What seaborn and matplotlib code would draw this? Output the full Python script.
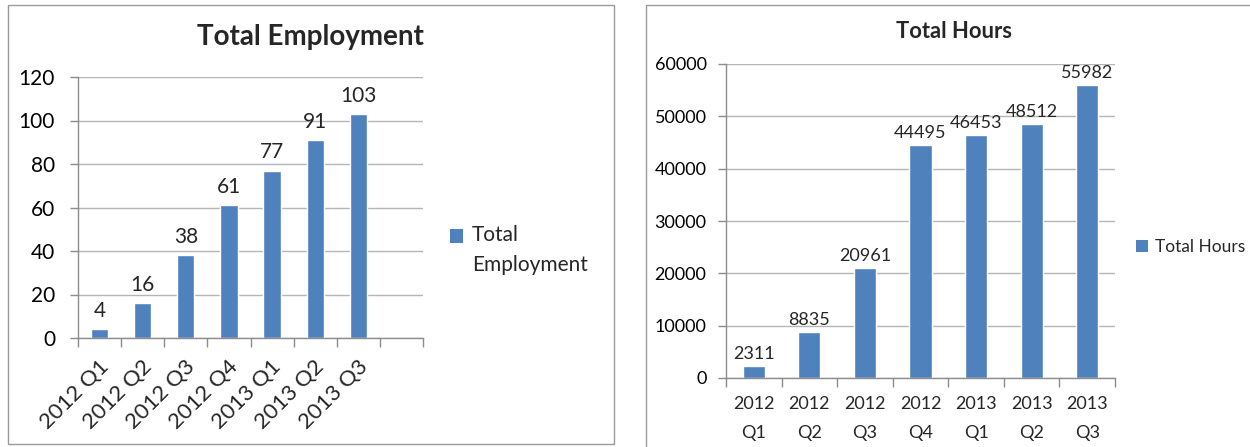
import matplotlib
matplotlib.use("Agg")
import matplotlib.pyplot as plt
import seaborn as sns
import pandas as pd
import numpy as np
from matplotlib.patches import Rectangle, Patch
from matplotlib.legend_handler import HandlerPatch
from matplotlib.transforms import ScaledTranslation

# ---- data ----
quarters = ["2012 Q1", "2012 Q2", "2012 Q3", "2012 Q4", "2013 Q1", "2013 Q2", "2013 Q3"]
employment = [4, 16, 38, 61, 77, 91, 103]
hours = [2311, 8835, 20961, 44495, 46453, 48512, 55982]
emp_ticks = [0, 20, 40, 60, 80, 100, 120]
hour_ticks = [0, 10000, 20000, 30000, 40000, 50000, 60000]

sns.set_theme(style="white")
plt.rcParams["font.family"] = ["Lato", "DejaVu Sans"]

BLUE = "#4F81BD"
AXC = "#8c8c8c"
GRID = "#b5b5b5"
W, H = 1250, 447

fig = plt.figure(figsize=(12.5, 4.47), dpi=100)
fig.patch.set_facecolor("white")

# chart-area borders
fig.add_artist(Rectangle((8 / W, 1 - 444 / H), (614 - 8) / W, (444 - 5) / H,
                         transform=fig.transFigure, fill=False, edgecolor="#9a9a9a", lw=1))
fig.add_artist(Rectangle((646 / W, -0.2), 0.6, 1.2 - 5 / H,
                         transform=fig.transFigure, fill=False, edgecolor="#9a9a9a", lw=1))


def style_axes(ax, nslots, ytick_vals, ysize, ypad):
    if ax.get_legend() is not None:
        ax.get_legend().remove()
    ax.set_xlim(-0.5, nslots - 0.5)
    ax.set_ylim(ytick_vals[0], ytick_vals[-1])
    ax.set_yticks(ytick_vals)
    ax.set_xticks(np.arange(-0.5, nslots, 1.0), minor=True)
    ax.yaxis.grid(True, color=GRID, lw=1)
    ax.xaxis.grid(False)
    ax.set_axisbelow(True)
    for s in ["top", "right"]:
        ax.spines[s].set_visible(False)
    for s in ["left", "bottom"]:
        ax.spines[s].set_color(AXC)
        ax.spines[s].set_linewidth(1)
    ax.tick_params(axis="x", which="major", length=0)
    ax.tick_params(axis="x", which="minor", length=6.5, color=AXC, width=1, direction="out", bottom=True)
    ax.tick_params(axis="y", which="major", length=5.5, color=AXC, width=1, direction="out",
                   left=True, labelsize=ysize, pad=ypad, labelcolor="black")
    ax.set_xlabel("")
    ax.set_ylabel("")


# ---- left: Total Employment ----
ax1 = fig.add_axes([78 / W, 1 - 338 / H, (423 - 78) / W, (338 - 77) / H])
df1 = pd.DataFrame({"Quarter": quarters, "Total Employment": employment})
sns.barplot(data=df1, x="Quarter", y="Total Employment", color=BLUE, saturation=1,
            width=0.4, ax=ax1)
style_axes(ax1, 8, emp_ticks, 15, 11)
ax1.set_xticks(range(len(quarters)))
ax1.set_xticklabels(quarters, rotation=45, ha="right", rotation_mode="anchor",
                    fontsize=16, va="center")
ax1.tick_params(axis="x", which="major", pad=18)
shift = ScaledTranslation(6 / 100, 0, fig.dpi_scale_trans)
for lab in ax1.get_xticklabels():
    lab.set_transform(lab.get_transform() + shift)
ax1.bar_label(ax1.containers[0], fontsize=15, padding=6)
ax1.set_title("Total Employment", x=(310 - 78) / 345, y=1 + (77 - 37) / 261, va="center",
              fontsize=20, fontweight="bold", pad=0)


def shifted_patch(legend, orig_handle, xdescent, ydescent, width, height, fontsize):
    return Rectangle((-xdescent, -ydescent + 0.72 * fontsize), width, height)


leg1 = fig.legend(handles=[Patch(facecolor=BLUE, edgecolor="none")], labels=["Total\nEmployment"],
                  loc="center left", bbox_to_anchor=(450 / W, 1 - 250 / H),
                  bbox_transform=fig.transFigure, frameon=False, fontsize=15,
                  handlelength=0.6, handleheight=0.65, handletextpad=0.45,
                  borderpad=0, borderaxespad=0,
                  handler_map={Patch: HandlerPatch(patch_func=shifted_patch)})
for t in leg1.get_texts():
    t.set_linespacing(1.6)

# ---- right: Total Hours ----
ax2 = fig.add_axes([726 / W, 1 - 378 / H, (1115 - 726) / W, (378 - 64) / H])
df2 = pd.DataFrame({"Quarter": quarters, "Total Hours": hours})
sns.barplot(data=df2, x="Quarter", y="Total Hours", color=BLUE, saturation=1,
            width=0.4, ax=ax2)
style_axes(ax2, 7, hour_ticks, 13, 8.5)
ax2.set_xticks(range(len(quarters)))
ax2.set_xticklabels([q.replace(" ", "\n") for q in quarters], fontsize=13, linespacing=2.0)
ax2.tick_params(axis="x", which="major", pad=13)
ax2.bar_label(ax2.containers[0], fontsize=13, padding=3, fmt="%d")
ax2.set_title("Total Hours", x=(954 - 726) / 389, y=1 + (64 - 31) / 314, va="center",
              fontsize=15.8, fontweight="bold", pad=0)

fig.legend(handles=[Patch(facecolor=BLUE, edgecolor="none")], labels=["Total Hours"],
           loc="center left", bbox_to_anchor=(1136 / W, 1 - 247 / H),
           bbox_transform=fig.transFigure, frameon=False, fontsize=12.5,
           handlelength=0.7, handleheight=0.75, handletextpad=0.4,
           borderpad=0, borderaxespad=0)

fig.savefig("out.png", dpi=100, facecolor="white")
